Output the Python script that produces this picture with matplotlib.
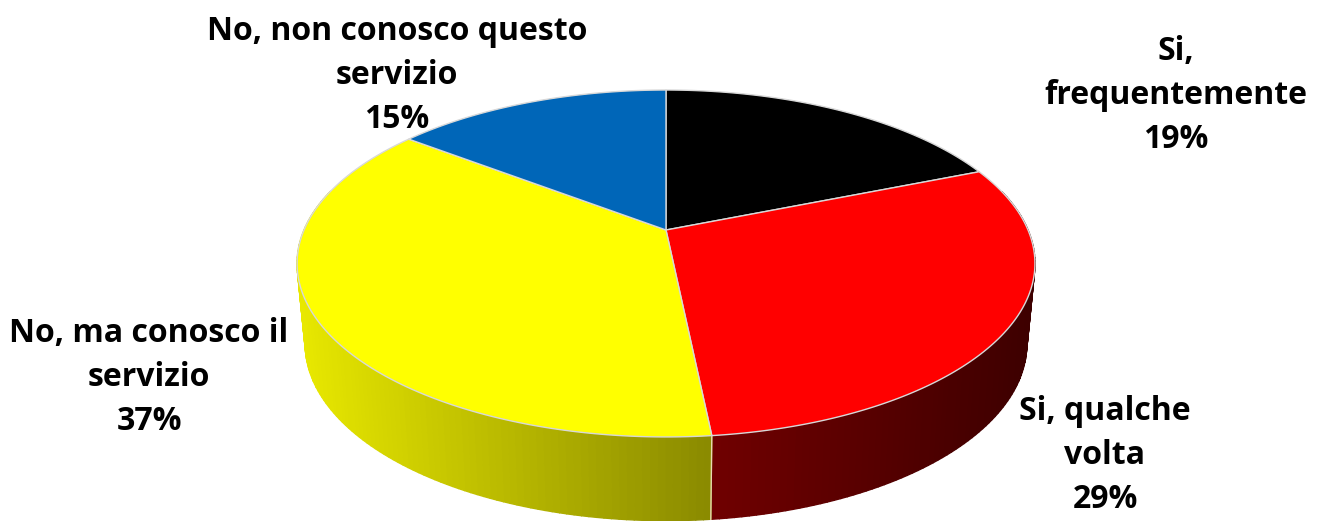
import numpy as np
import matplotlib
matplotlib.use("Agg")
import matplotlib.pyplot as plt
from matplotlib.patches import Polygon

# dati
names = ["Si,\nfrequentemente", "Si, qualche\nvolta",
         "No, ma conosco il\nservizio", "No, non conosco questo\nservizio"]
values = [18.9, 29.47, 37.03, 14.6]
colors = ["#000000", "#ff0000", "#ffff00", "#0066b8"]
wall_left = [(0, 0, 0), (0.44, 0, 0), (0.91, 0.91, 0), (0, 0.3, 0.6)]
wall_right = [(0, 0, 0), (0.24, 0, 0), (0.54, 0.54, 0), (0, 0.3, 0.6)]
label_x = [1176, 1105, 149, 397]
label_y = [95, 455, 378, 76]

W, H = 1321, 521
CX = 666
PERSP = 0.193


# cerchio -> piano del disegno con prospettiva (angolo in gradi da ore 12, orario)
def project(ang, cy, a, d):
    t = np.radians(ang)
    u, v = np.sin(t), np.cos(t)
    den = 1 + PERSP * v
    return CX + d * u / den, cy - a * v / den


def top(ang):
    return project(ang, 230, 167, 362)


def bottom(ang):
    return project(ang, 310, 170, 354)


fig = plt.figure(figsize=(W / 100, H / 100), dpi=100)
ax = fig.add_axes([0, 0, 1, 1])
ax.set_xlim(0, W)
ax.set_ylim(H, 0)
ax.axis("off")

edges = np.cumsum([0] + values) / sum(values) * 360

# parete laterale
for i in range(len(values)):
    angs = np.arange(edges[i], edges[i + 1] + 0.01, 1.0)
    angs = angs[np.cos(np.radians(angs)) < 0.25]
    if len(angs) < 2:
        continue
    angs = np.append(angs, edges[i + 1]) if edges[i + 1] < 200 else angs
    xs = top(angs)[0]
    span_l, span_r = xs.min(), xs.max()
    for a0, a1 in zip(angs[:-1], angs[1:]):
        x0, y0 = top(a0)
        x1, y1 = top(a1)
        x2, y2 = bottom(a1)
        x3, y3 = bottom(a0)
        f = ((x0 + x1) / 2 - span_l) / max(span_r - span_l, 1)
        c = np.array(wall_left[i]) * (1 - f) + np.array(wall_right[i]) * f
        ax.add_patch(Polygon([(x0, y0), (x1, y1), (x2, y2), (x3, y3)],
                             facecolor=c, edgecolor=c, lw=1.0, zorder=2))

# linea tra le pareti rosso/giallo
xa, ya = top(edges[2])
xb, yb = bottom(edges[2])
ax.plot([xa, xb], [ya, yb], color="#e8d8b0", lw=1.0, zorder=3)

# faccia superiore
for i in range(len(values)):
    angs = np.linspace(edges[i], edges[i + 1], 200)
    x, y = top(angs)
    pts = [top(0)[0], *x], [230, *y]
    ax.add_patch(Polygon(np.column_stack(pts), facecolor=colors[i], edgecolor="#d8d8d8",
                         lw=1.0, joinstyle="round", zorder=4))

for name, val, lx, ly in zip(names, values, label_x, label_y):
    ax.text(lx, ly, f"{name}\n{val:.0f}%", ha="center", va="center", family="Open Sans",
            weight="bold", fontsize=23, linespacing=1.44, color="black", zorder=5)

fig.savefig("out.png", dpi=100, facecolor="white")
